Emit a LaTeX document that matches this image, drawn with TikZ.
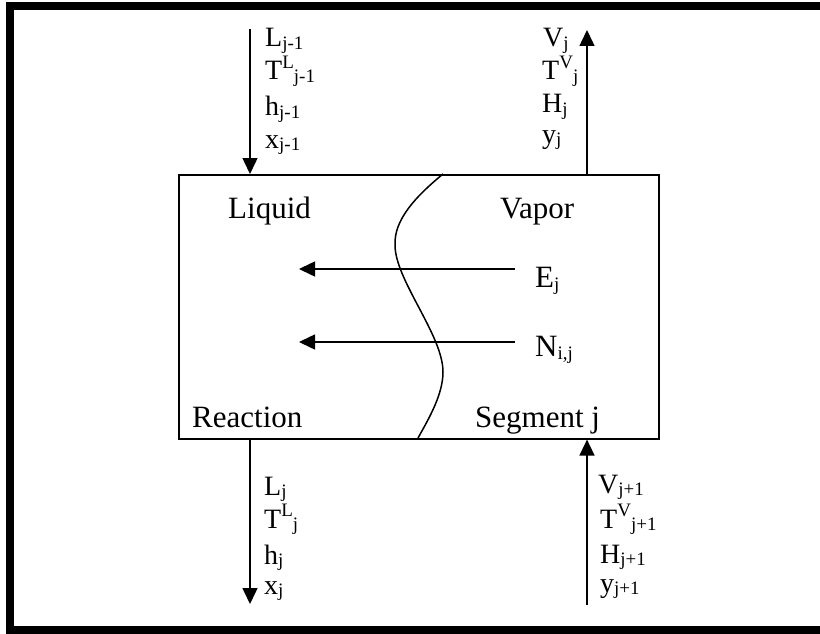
\documentclass[tikz,border=0pt]{standalone}
\usepackage{fontspec}
\setmainfont{Liberation Serif}
\usetikzlibrary{arrows.meta}
\newcommand\sbs[1]{\raisebox{-0.1em}{\fontsize{19}{19}\selectfont #1}}
\newcommand\sps[1]{\raisebox{0.4em}{\fontsize{19}{19}\selectfont #1}}
\begin{document}
\begin{tikzpicture}[x=1pt,y=-1pt,
  lbl/.style={anchor=base west, inner sep=0pt, font=\fontsize{31}{36}\selectfont},
  flbl/.style={anchor=base west, inner sep=0pt, font=\fontsize{28}{34}\selectfont},
  flow/.style={line width=1.5pt, -{Triangle[length=16pt,width=15pt]}},
  wave/.style={line width=1.5pt}]
\clip (0,0) rectangle (820,634);
\draw[line width=8pt] (10,6) rectangle (840,630);
\node[draw, line width=1.6pt, minimum width=480pt, minimum height=264pt, inner sep=0pt, anchor=north west] (box) at (178,174) {};
% vertical streams
\coordinate (a1s) at (250,29);
\coordinate (a2e) at (587,30);
\coordinate (a3e) at (250,604);
\coordinate (a4s) at (587,605);
\draw[flow] (a1s) -- (a1s |- box.north);
\draw[flow] (a2e |- box.north) -- (a2e);
\draw[flow] (a3e |- box.south) -- (a3e);
\draw[flow] (a4s) -- (a4s |- box.south);
% transfer arrows
\coordinate (e1) at (515,269);
\coordinate (e2) at (299,269);
\coordinate (n1) at (515,342);
\coordinate (n2) at (299,342);
\draw[flow] (e1) -- (e2);
\draw[flow] (n1) -- (n2);
% interface
\coordinate (w0) at (443,174);
\coordinate (w1) at (395,245);
\coordinate (w2) at (443,372);
\coordinate (w3) at (418,438);
\draw[wave] (w0) .. controls (415,197) and (394,220) .. (w1)
  .. controls (395,280) and (443,335) .. (w2)
  .. controls (443,395) and (428,420) .. (w3);
% box labels
\node[lbl] (liq) at (228,218) {Liquid};
\node[lbl] (vap) at (500,218) {Vapor};
\node[lbl] (rea) at (192,427) {Reaction};
\node[lbl] (seg) at (475,427) {Segment j};
\node[lbl] (ej) at (535,287) {E\sbs{j}};
\node[lbl] (nij) at (535,356) {N\sbs{i,j}};
% top left
\node[flbl] (tl1) at (265,47) {L\sbs{j-1}};
\node[flbl] (tl2) at (265,80) {T\sps{L}\sbs{j-1}};
\node[flbl] (tl3) at (265,116) {h\sbs{j-1}};
\node[flbl] (tl4) at (265,148) {x\sbs{j-1}};
% top right
\node[flbl] (tr1) at (543,47) {V\sbs{j}};
\node[flbl] (tr2) at (542,80) {T\sps{V}\sbs{j}};
\node[flbl] (tr3) at (542,113) {H\sbs{j}};
\node[flbl] (tr4) at (542,143) {y\sbs{j}};
% bottom left
\node[flbl] (bl1) at (264,495) {L\sbs{j}};
\node[flbl] (bl2) at (264,528) {T\sps{L}\sbs{j}};
\node[flbl] (bl3) at (264,564) {h\sbs{j}};
\node[flbl] (bl4) at (264,594) {x\sbs{j}};
% bottom right
\node[flbl] (br1) at (598,493) {V\sbs{j+1}};
\node[flbl] (br2) at (600,528) {T\sps{V}\sbs{j+1}};
\node[flbl] (br3) at (600,563) {H\sbs{j+1}};
\node[flbl] (br4) at (600,592) {y\sbs{j+1}};
\end{tikzpicture}
\end{document}
